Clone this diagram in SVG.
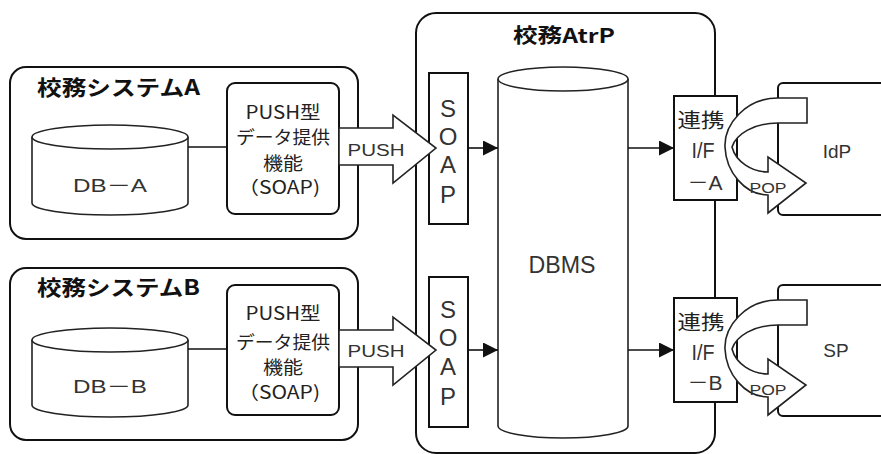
<svg xmlns="http://www.w3.org/2000/svg" width="881" height="454" viewBox="0 0 881 454">
<defs>
<style>
.box{fill:#fff;stroke:#111;stroke-width:2}
.thin{fill:#fff;stroke:#222;stroke-width:1.6}
.ln{fill:none;stroke:#111;stroke-width:1.6}
.blk{fill:#fff;stroke:#222;stroke-width:1.6;stroke-linejoin:miter}
.jp{font-family:"Noto Sans CJK JP","Liberation Sans",sans-serif;fill:#222}
.tt{font-family:"Noto Sans CJK JP","Liberation Sans",sans-serif;font-weight:bold;fill:#111}
.lat{font-family:"Liberation Sans","Noto Sans CJK JP",sans-serif;fill:#333}
</style>
<marker id="ah" viewBox="0 0 10 10" refX="10" refY="5" markerWidth="15" markerHeight="15" markerUnits="userSpaceOnUse" orient="auto">
<path d="M0,0 L10,5 L0,10 Z" fill="#111"/>
</marker>
</defs>

<g id="atrp">
<rect x="416" y="13" width="299" height="440" rx="20" class="box"/>
<text x="564" y="43" text-anchor="middle" class="tt" font-size="20" textLength="102" lengthAdjust="spacingAndGlyphs">校務AtrP</text>
</g>

<g id="systemA">
<rect x="10" y="67" width="348" height="172" rx="16" class="box"/>
<text x="37" y="95" class="tt" font-size="21" textLength="163" lengthAdjust="spacingAndGlyphs">校務システムA</text>
</g>
<g id="dbA">
<path d="M32,137 L32,203 A78,12 0 0 0 188,203 L188,137" class="thin"/>
<ellipse cx="110" cy="137" rx="78" ry="12" class="thin"/>
<text x="110" y="192" text-anchor="middle" class="lat" font-size="18" textLength="74" lengthAdjust="spacingAndGlyphs">DB－A</text>
</g>
<g id="pushA">
<rect x="227" y="83" width="112" height="131" rx="8" class="box"/>
<text x="283" y="119" text-anchor="middle" class="jp" font-size="18" textLength="75" lengthAdjust="spacingAndGlyphs">PUSH型</text>
<text x="283" y="144" text-anchor="middle" class="jp" font-size="18" textLength="94" lengthAdjust="spacingAndGlyphs">データ提供</text>
<text x="283" y="170" text-anchor="middle" class="jp" font-size="18" textLength="40" lengthAdjust="spacingAndGlyphs">機能</text>
<text x="279" y="194" text-anchor="middle" class="jp" font-size="18" textLength="82" lengthAdjust="spacingAndGlyphs">（SOAP)</text>
</g>

<g id="systemB">
<rect x="10" y="268" width="348" height="172" rx="16" class="box"/>
<text x="37" y="295" class="tt" font-size="21" textLength="163" lengthAdjust="spacingAndGlyphs">校務システムB</text>
</g>
<g id="dbB">
<path d="M32,340 L32,405 A78,12 0 0 0 188,405 L188,340" class="thin"/>
<ellipse cx="110" cy="340" rx="78" ry="12" class="thin"/>
<text x="110" y="393" text-anchor="middle" class="lat" font-size="18" textLength="74" lengthAdjust="spacingAndGlyphs">DB－B</text>
</g>
<g id="pushB">
<rect x="227" y="285" width="112" height="130" rx="8" class="box"/>
<text x="283" y="320" text-anchor="middle" class="jp" font-size="18" textLength="75" lengthAdjust="spacingAndGlyphs">PUSH型</text>
<text x="283" y="349" text-anchor="middle" class="jp" font-size="18" textLength="94" lengthAdjust="spacingAndGlyphs">データ提供</text>
<text x="283" y="374" text-anchor="middle" class="jp" font-size="18" textLength="40" lengthAdjust="spacingAndGlyphs">機能</text>
<text x="279" y="399" text-anchor="middle" class="jp" font-size="18" textLength="82" lengthAdjust="spacingAndGlyphs">（SOAP)</text>
</g>

<g id="dbms">
<path d="M498,79 L498,426 A65,12 0 0 0 628,426 L628,79" class="thin"/>
<ellipse cx="563" cy="79" rx="65" ry="12" class="thin"/>
<text x="562" y="273" text-anchor="middle" class="lat" font-size="23" textLength="67" lengthAdjust="spacingAndGlyphs">DBMS</text>
</g>

<g id="soapA">
<rect x="429" y="73" width="39" height="151" class="box"/>
<g class="lat" font-size="24" text-anchor="middle">
<text x="448" y="117">S</text><text x="448" y="145">O</text><text x="448" y="173">A</text><text x="448" y="203">P</text>
</g>
</g>
<g id="soapB">
<rect x="429" y="277" width="39" height="150" class="box"/>
<g class="lat" font-size="24" text-anchor="middle">
<text x="448" y="318">S</text><text x="448" y="346">O</text><text x="448" y="375">A</text><text x="448" y="405">P</text>
</g>
</g>

<g id="idp">
<rect x="778" y="83" width="130" height="132" rx="5" class="box"/>
<text x="837" y="158" text-anchor="middle" class="lat" font-size="19">IdP</text>
</g>
<g id="sp">
<rect x="778" y="285" width="130" height="131" rx="5" class="box"/>
<text x="836" y="357" text-anchor="middle" class="lat" font-size="19">SP</text>
</g>

<g id="renkeiA">
<rect x="674" y="96" width="63" height="104" class="box"/>
<text x="701" y="128" text-anchor="middle" class="jp" font-size="20" fill="#111" textLength="47" lengthAdjust="spacingAndGlyphs">連携</text>
<text x="703" y="158" text-anchor="middle" class="lat" font-size="22" textLength="23" lengthAdjust="spacingAndGlyphs">I/F</text>
<text x="705" y="190" text-anchor="middle" class="lat" font-size="20" textLength="35" lengthAdjust="spacingAndGlyphs">－A</text>
</g>
<g id="renkeiB">
<rect x="674" y="298" width="63" height="104" class="box"/>
<text x="701" y="330" text-anchor="middle" class="jp" font-size="20" fill="#111" textLength="47" lengthAdjust="spacingAndGlyphs">連携</text>
<text x="703" y="360" text-anchor="middle" class="lat" font-size="22" textLength="23" lengthAdjust="spacingAndGlyphs">I/F</text>
<text x="705" y="390" text-anchor="middle" class="lat" font-size="20" textLength="35" lengthAdjust="spacingAndGlyphs">－B</text>
</g>

<g id="connectors">
<line x1="188" y1="147" x2="227" y2="147" class="ln"/>
<line x1="188" y1="349" x2="227" y2="349" class="ln"/>
<path d="M339,128 L393,128 L393,115 L436,148 L393,183 L393,165 L339,165 Z" class="blk"/>
<text x="376" y="156" text-anchor="middle" class="lat" font-size="16" textLength="57" lengthAdjust="spacingAndGlyphs">PUSH</text>
<path d="M339,330 L393,330 L393,317 L436,350 L393,385 L393,367 L339,367 Z" class="blk"/>
<text x="376" y="357" text-anchor="middle" class="lat" font-size="16" textLength="57" lengthAdjust="spacingAndGlyphs">PUSH</text>
<line x1="468" y1="148" x2="498" y2="148" class="ln" marker-end="url(#ah)"/>
<line x1="468" y1="350" x2="498" y2="350" class="ln" marker-end="url(#ah)"/>
<line x1="628" y1="148" x2="674" y2="148" class="ln" marker-end="url(#ah)"/>
<line x1="628" y1="350" x2="674" y2="350" class="ln" marker-end="url(#ah)"/>
<path d="M807,98 L778,98 C745,98 724,125 725,147 C726,172 745,195 768,195 L768,213 L806,183 L768,157 L768,172 C752,172 736,162 732,147 C736,134 754,123 778,123 L807,123 Z" class="blk"/>
<text x="768" y="193" text-anchor="middle" class="lat" font-size="15" textLength="37" lengthAdjust="spacingAndGlyphs">POP</text>
<path d="M807,300 L778,300 C745,300 724,327 725,349 C726,374 745,397 768,397 L768,415 L806,385 L768,359 L768,374 C752,374 736,364 732,349 C736,336 754,325 778,325 L807,325 Z" class="blk"/>
<text x="768" y="395" text-anchor="middle" class="lat" font-size="15" textLength="37" lengthAdjust="spacingAndGlyphs">POP</text>
</g>
</svg>
